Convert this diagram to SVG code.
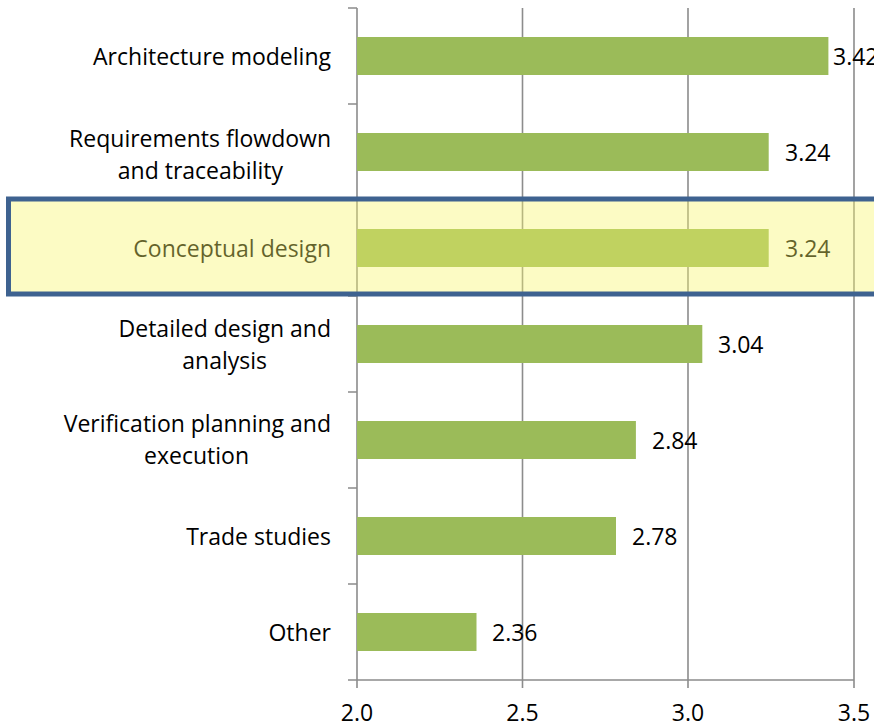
<svg xmlns="http://www.w3.org/2000/svg" width="874" height="725" viewBox="0 0 874 725">
<style>
.t{font-family:"Open Sans","Liberation Sans",sans-serif;font-size:23px;fill:#000}
.lab{text-anchor:end}
.ax{text-anchor:middle}
.bar{fill:#9BBB59}
.grid{stroke:#8C8C8C;stroke-width:1.6;fill:none}
</style>
<rect width="874" height="725" fill="#fff"/>
<g id="gridlines">
<path class="grid" d="M522.5 8V688M688 8V688M854 8V688"/>
</g>
<g id="axes">
<path class="grid" d="M357 8V688M348 680H854M348 8H357M348 104H357M348 200H357M348 296H357M348 392H357M348 488H357M348 584H357M348 680H357"/>
<text class="t ax" x="357" y="721">2.0</text>
<text class="t ax" x="522.5" y="721">2.5</text>
<text class="t ax" x="688" y="721">3.0</text>
<text class="t ax" x="854" y="721">3.5</text>
</g>
<g id="bar-architecture">
<rect class="bar" x="357" y="37" width="471.4" height="38"/>
<text class="t lab" x="331" y="65">Architecture modeling</text>
<text class="t" x="833" y="65">3.42</text>
</g>
<g id="bar-requirements">
<rect class="bar" x="357" y="133" width="411.7" height="38"/>
<text class="t lab" x="331" y="146.5">Requirements flowdown</text>
<text class="t lab" x="283" y="178.5">and traceability</text>
<text class="t" x="785" y="161">3.24</text>
</g>
<g id="bar-conceptual">
<rect class="bar" x="357" y="229" width="411.7" height="38"/>
<text class="t lab" x="331" y="257">Conceptual design</text>
<text class="t" x="785" y="257">3.24</text>
</g>
<g id="bar-detailed">
<rect class="bar" x="357" y="325" width="345.3" height="38"/>
<text class="t lab" x="331" y="337">Detailed design and</text>
<text class="t lab" x="267" y="369">analysis</text>
<text class="t" x="718" y="353">3.04</text>
</g>
<g id="bar-verification">
<rect class="bar" x="357" y="421" width="278.9" height="38"/>
<text class="t lab" x="331" y="432">Verification planning and</text>
<text class="t lab" x="249" y="464">execution</text>
<text class="t" x="652" y="449">2.84</text>
</g>
<g id="bar-trade">
<rect class="bar" x="357" y="517" width="259" height="38"/>
<text class="t lab" x="331" y="545">Trade studies</text>
<text class="t" x="632" y="545">2.78</text>
</g>
<g id="bar-other">
<rect class="bar" x="357" y="613" width="119.5" height="38"/>
<text class="t lab" x="331" y="641">Other</text>
<text class="t" x="492" y="641">2.36</text>
</g>
<g id="highlight">
<rect x="8.5" y="199" width="880" height="95" fill="#F8F46B" fill-opacity="0.4" stroke="#3E6290" stroke-width="5"/>
</g>
</svg>
